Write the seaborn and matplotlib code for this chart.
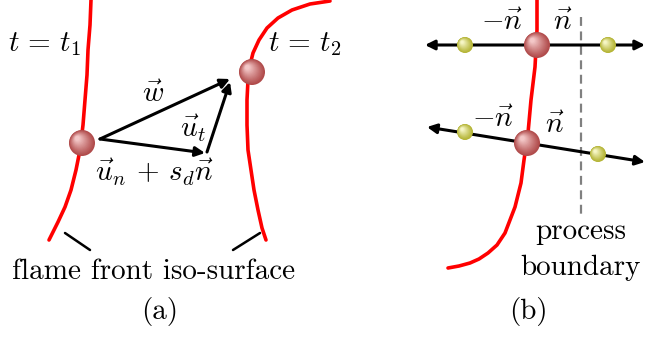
import numpy as np
import matplotlib
matplotlib.use("Agg")
import matplotlib.pyplot as plt
from matplotlib.patches import Circle
import seaborn as sns

# Diagram geometry in pixel coordinates (x right, y down)
front1_x = [91, 90, 88, 87, 85, 83, 80, 76, 71, 65, 58, 49]
front1_y = [0, 25, 50, 75, 100, 125, 150, 170, 190, 207, 222, 240]
front2_x = [330, 310, 292, 278, 267, 259, 253, 250, 248, 247, 247, 248, 251, 254, 258, 262, 266]
front2_y = [1, 4, 10, 18, 28, 40, 53, 65, 80, 100, 125, 150, 170, 190, 210, 228, 240]
front_b_x = [537, 537, 535, 531, 528, 524, 521, 515, 505, 497, 488, 479, 470, 459, 448]
front_b_y = [0, 30, 67, 100, 133, 160, 183, 207, 233, 245, 253, 259, 263, 266, 268]

big_balls = [(82, 143), (252, 72), (537, 45), (527, 143)]
small_balls = [(465, 45), (608, 45), (465, 132), (598, 154)]

# vectors (start, end)
vec_w = ((100, 139), (230, 79))
vec_un = ((100, 139), (205, 153))
vec_ut = ((207, 152), (230, 82))
normal_top = ((425, 45), (645, 45))
normal_low = ((427, 127), (645, 162))

sns.set_theme(style="white")
plt.rcParams["mathtext.fontset"] = "cm"
plt.rcParams["font.family"] = ["cmr10", "DejaVu Serif"]
plt.rcParams["text.color"] = "black"

fig = plt.figure(figsize=(6.46, 3.38), dpi=100)
ax = fig.add_axes([0, 0, 1, 1])
ax.set_xlim(0, 646)
ax.set_ylim(338, 0)
ax.set_aspect("equal")
ax.axis("off")

red = "#ff0000"
for xs, ys in [(front1_x, front1_y), (front2_x, front2_y), (front_b_x, front_b_y)]:
    sns.lineplot(x=xs, y=ys, sort=False, estimator=None, color=red, lw=2.6, ax=ax)

# process boundary
ax.plot([581, 581], [17, 215], color="#808080", lw=1.6, ls=(0, (4, 2.5)))


def arrow(p0, p1, style="-|>"):
    ax.annotate("", xy=p1, xytext=p0,
                arrowprops=dict(arrowstyle=style, color="black", lw=2.2,
                                mutation_scale=14, shrinkA=0, shrinkB=0))


arrow(*vec_w)
arrow(*vec_un)
arrow(*vec_ut)
arrow(*normal_top, style="<|-|>")
arrow(*normal_low, style="<|-|>")


def ball(c, r, dark, light, z=5):
    n = 16
    dark = np.array(matplotlib.colors.to_rgb(dark))
    light = np.array(matplotlib.colors.to_rgb(light))
    for i in range(n):
        f = i / n
        rr = r * (1 - 0.88 * f)
        off = r * 0.38 * f
        col = dark + (light - dark) * f ** 1.1
        ax.add_patch(Circle((c[0] - off, c[1] - off), rr, color=col, zorder=z, lw=0))


for c in big_balls:
    ball(c, 13, "#b04a4a", "#f8d0d0")
for c in small_balls:
    ball(c, 8, "#b4b434", "#fbfbd0")

fs = 21
ax.text(45, 44, r"$t\,=\,t_1$", fontsize=fs, ha="center", va="center")
ax.text(305, 44, r"$t\,=\,t_2$", fontsize=fs, ha="center", va="center")
ax.text(153, 95, r"$\vec{w}$", fontsize=fs, ha="center", va="center")
ax.text(193, 128, r"$\vec{u}_t$", fontsize=fs, ha="center", va="center")
ax.text(154, 172, r"$\vec{u}_n\,+\,s_d\vec{n}$", fontsize=fs, ha="center", va="center")
ax.text(502, 23, r"$-\vec{n}$", fontsize=fs, ha="center", va="center")
ax.text(563, 23, r"$\vec{n}$", fontsize=fs, ha="center", va="center")
ax.text(493, 120, r"$-\vec{n}$", fontsize=fs, ha="center", va="center")
ax.text(555, 126, r"$\vec{n}$", fontsize=fs, ha="center", va="center")

ax.plot([65, 90], [233, 250], color="black", lw=1.8)
ax.plot([233, 260], [250, 233], color="black", lw=1.8)
ax.text(154, 272, "flame front iso-surface", fontsize=fs, ha="center", va="center")
ax.text(581, 232, "process", fontsize=fs, ha="center", va="center")
ax.text(580, 268, "boundary", fontsize=fs, ha="center", va="center")
ax.text(160, 312, "(a)", fontsize=fs, ha="center", va="center")
ax.text(528, 312, "(b)", fontsize=fs, ha="center", va="center")

fig.savefig("out.png", dpi=100)
